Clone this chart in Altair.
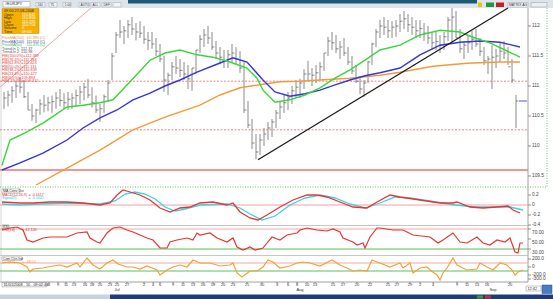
import altair as alt
import pandas as pd

W, H = 553, 299
FONT = "Liberation Sans"

# ---------------- price bars (4-hour bars, time axis in hours) ----------------
bar_hours = list(range(4, 517, 4))
bar_high = [
    110.9, 110.92, 111.0, 111.08, 111.15, 111.1, 110.9, 110.7, 110.62, 110.78,
    110.85, 110.82, 110.84, 110.9, 110.95, 110.88, 110.9, 110.88, 110.94, 111.0,
    111.05, 111.12, 110.98, 110.84, 110.7, 110.86, 111.1, 111.55, 111.9, 112.1,
    112.0, 112.1, 112.15, 112.05, 112.08, 112.0, 111.9, 111.9, 111.8, 111.7,
    111.5, 111.22, 111.4, 111.5, 111.45, 111.4, 111.35, 111.3, 111.6, 111.85,
    111.95, 112.0, 111.9, 111.75, 111.65, 111.6, 111.6, 111.7, 111.65, 111.58,
    111.4, 110.75, 110.45, 110.2, 110.2, 110.3, 110.4, 110.45, 110.6, 110.75,
    110.85, 110.9, 111.0, 111.1, 111.12, 111.28, 111.42, 111.3, 111.35, 111.4,
    111.55, 111.82, 111.9, 111.85, 111.75, 111.8, 111.65, 111.5, 111.35, 111.15,
    111.1, 111.42, 111.72, 111.95, 112.1, 112.15, 112.1, 112.08, 112.1, 112.2,
    112.25, 112.2, 112.15, 112.1, 112.1, 112.05, 112.0, 111.9, 111.9, 111.85,
    111.9, 112.15, 112.3, 112.25, 111.95, 111.75, 111.85, 111.92, 111.95, 111.8,
    111.65, 111.5, 111.68, 111.62, 111.72, 111.75, 111.65, 111.45, 110.85,
]
bar_low = [
    110.62, 110.66, 110.72, 110.8, 110.88, 110.8, 110.6, 110.42, 110.38, 110.52,
    110.56, 110.58, 110.55, 110.62, 110.66, 110.62, 110.6, 110.62, 110.66, 110.7,
    110.76, 110.8, 110.64, 110.55, 110.4, 110.55, 110.74, 111.1, 111.55, 111.8,
    111.7, 111.8, 111.85, 111.76, 111.8, 111.7, 111.6, 111.62, 111.5, 111.4,
    110.9, 110.85, 111.1, 111.2, 111.15, 111.1, 110.95, 110.92, 111.2, 111.55,
    111.65, 111.7, 111.6, 111.45, 111.36, 111.3, 111.3, 111.4, 111.35, 111.22,
    110.55, 110.3, 109.95, 109.78, 109.85, 110.0, 110.1, 110.15, 110.3, 110.45,
    110.55, 110.6, 110.7, 110.8, 110.8, 110.95, 111.1, 111.0, 111.05, 111.1,
    111.25, 111.5, 111.6, 111.55, 111.45, 111.5, 111.35, 111.2, 111.05, 110.86,
    110.82, 111.05, 111.35, 111.65, 111.8, 111.85, 111.8, 111.8, 111.82, 111.9,
    111.95, 111.9, 111.85, 111.8, 111.8, 111.75, 111.7, 111.6, 111.6, 111.55,
    111.6, 111.75, 111.72, 111.8, 111.55, 111.45, 111.55, 111.6, 111.65, 111.5,
    111.35, 111.2, 110.95, 111.3, 111.4, 111.45, 111.35, 111.05, 110.3,
]
bar_close = [
    110.8, 110.85, 110.92, 111.0, 110.98, 110.82, 110.6, 110.5, 110.6, 110.7,
    110.68, 110.72, 110.74, 110.8, 110.76, 110.72, 110.78, 110.8, 110.84, 110.9,
    110.98, 110.85, 110.72, 110.6, 110.62, 110.82, 111.05, 111.5, 111.85, 111.9,
    111.92, 112.02, 111.95, 111.9, 111.88, 111.78, 111.76, 111.7, 111.58, 111.45,
    111.1, 111.18, 111.32, 111.3, 111.26, 111.2, 111.12, 111.3, 111.6, 111.78,
    111.85, 111.8, 111.65, 111.55, 111.48, 111.42, 111.52, 111.55, 111.45, 111.3,
    110.6, 110.35, 110.05, 109.9, 110.1, 110.2, 110.3, 110.4, 110.55, 110.65,
    110.72, 110.8, 110.92, 110.98, 111.05, 111.2, 111.2, 111.18, 111.22, 111.32,
    111.55, 111.75, 111.72, 111.62, 111.65, 111.55, 111.4, 111.25, 111.08, 110.95,
    111.05, 111.4, 111.7, 111.9, 112.0, 111.98, 111.92, 111.98, 112.0, 112.08,
    112.12, 112.02, 111.98, 111.92, 111.96, 111.88, 111.8, 111.72, 111.74, 111.68,
    111.82, 112.1, 112.15, 111.8, 111.62, 111.68, 111.72, 111.78, 111.7, 111.58,
    111.42, 111.45, 111.48, 111.5, 111.58, 111.55, 111.32, 111.1, 110.75,
]

# ---------------- moving averages ----------------
ma50_t = [2, 10, 25, 43, 67, 83, 100, 113, 130, 150, 165, 180, 197, 213, 230, 247, 257, 263, 275, 290,
          305, 320, 335, 350, 365, 380, 400, 420, 440, 460, 475, 490, 505, 520]
ma50_p = [109.68, 110.1, 110.22, 110.38, 110.65, 110.68, 110.72, 110.77, 111.07, 111.43, 111.55, 111.6,
          111.52, 111.48, 111.4, 111.3, 111.13, 110.93, 110.73, 110.77, 110.85, 110.97, 111.13, 111.27,
          111.43, 111.6, 111.68, 111.85, 111.93, 111.9, 111.8, 111.72, 111.6, 111.48]
ma100_t = [2, 20, 43, 67, 83, 100, 117, 133, 150, 165, 180, 197, 215, 233, 247, 263, 275, 290, 305, 320,
           335, 350, 365, 380, 400, 420, 440, 460, 480, 500, 520]
ma100_p = [109.6, 109.72, 109.88, 110.1, 110.3, 110.47, 110.6, 110.77, 110.88, 111.0, 111.1, 111.23,
           111.35, 111.47, 111.4, 111.1, 110.9, 110.83, 110.87, 110.93, 111.02, 111.1, 111.17, 111.22,
           111.3, 111.52, 111.68, 111.73, 111.75, 111.73, 111.65]
ma200_t = [36, 67, 100, 133, 165, 200, 220, 240, 263, 280, 300, 320, 350, 380, 400, 433, 467, 500, 520]
ma200_p = [109.35, 109.63, 109.93, 110.27, 110.48, 110.68, 110.85, 110.97, 111.03, 111.07, 111.08,
           111.1, 111.13, 111.18, 111.23, 111.33, 111.38, 111.4, 111.4]

trend_t = [258, 508]
trend_p = [109.77, 112.3]
fan_t = [0, 91]
fan_p = [110.98, 112.3]
fib_dashed = [111.08, 110.27]
fib_solid = [109.6]

price_ticks = [112.0, 111.5, 111.0, 110.5, 110.0, 109.5]
price_labels = ["112", "111.5", "111", "110.5", "110", "109.5"]

# ---------------- MACD ----------------
macd_t = [2, 20, 33, 50, 67, 83, 100, 110, 117, 123, 130, 140, 150, 160, 170, 180, 190, 200, 213, 227,
          233, 240, 250, 258, 267, 280, 293, 307, 317, 327, 340, 353, 367, 377, 390, 400, 420, 440, 453,
          457, 470, 483, 497, 508, 513, 520]
macd_v = [0.06, 0.04, 0.04, 0.06, 0.06, 0.04, 0.0, 0.04, 0.2, 0.3, 0.26, 0.2, 0.1, -0.06, -0.14, -0.06,
          -0.04, 0.04, 0.06, 0.0, 0.04, -0.14, -0.26, -0.3, -0.2, -0.04, 0.1, 0.2, 0.2, 0.16, 0.06, -0.04,
          -0.06, 0.06, 0.2, 0.16, 0.1, 0.04, 0.04, 0.06, -0.04, -0.06, -0.04, -0.02, -0.1, -0.16]
signal_t = [2, 20, 40, 67, 100, 115, 125, 135, 145, 155, 165, 175, 185, 200, 227, 240, 250, 262, 275, 290,
            305, 320, 335, 350, 365, 380, 395, 410, 430, 455, 475, 495, 510, 523]
signal_v = [0.02, 0.0, 0.02, 0.04, 0.02, 0.08, 0.22, 0.26, 0.22, 0.12, -0.04, -0.12, -0.08, 0.0, 0.02,
            -0.06, -0.18, -0.3, -0.22, 0.0, 0.14, 0.2, 0.14, 0.02, -0.06, 0.04, 0.16, 0.14, 0.08, 0.0,
            -0.04, -0.04, -0.04, -0.1]
macd_ticks = [0.2, 0.0, -0.2, -0.4]
macd_labels = ["0.2", "0", "-0.2", "-0.4"]

# ---------------- RSI ----------------
rsi_t = [2, 10, 17, 23, 27, 33, 43, 50, 67, 77, 87, 90, 97, 100, 107, 113, 120, 127, 133, 140, 147, 153,
         160, 167, 170, 177, 187, 193, 197, 200, 210, 217, 227, 233, 237, 243, 250, 255, 263, 267, 272,
         280, 287, 297, 300, 307, 317, 327, 333, 340, 343, 353, 357, 363, 365, 370, 377, 380, 393, 403,
         413, 430, 438, 443, 453, 460, 467, 477, 483, 490, 497, 505, 510, 515, 518, 520, 523]
rsi_v = [68, 72, 74, 68, 48, 44, 52, 54, 54, 62, 64, 52, 44, 42, 62, 72, 74, 68, 64, 58, 52, 48,
         32, 32, 44, 48, 52, 48, 62, 58, 62, 52, 44, 52, 34, 28, 34, 28, 32, 42, 54,
         48, 58, 62, 68, 72, 68, 66, 70, 64, 52, 44, 38, 42, 32, 54, 72, 72, 68, 68,
         58, 54, 42, 48, 62, 44, 42, 54, 42, 38, 48, 44, 52, 24, 22, 42, 42]
rsi_ticks = [70, 50, 30]
rsi_labels = ["70.00", "50.00", "30.00"]

# ---------------- CCI ----------------
cci_t = [2, 10, 20, 27, 30, 33, 43, 53, 60, 67, 77, 80, 87, 93, 100, 107, 113, 118, 127, 133, 140, 147,
         157, 160, 167, 173, 180, 187, 193, 200, 210, 220, 230, 233, 237, 242, 250, 257, 263, 268, 273,
         280, 290, 297, 303, 310, 320, 332, 340, 347, 353, 360, 367, 372, 377, 380, 390, 400, 403, 410,
         413, 420, 427, 430, 437, 440, 443, 447, 453, 457, 467, 477, 480, 487, 493, 500, 507, 512, 515,
         518, 523]
cci_v = [100, 125, 100, 0, -125, -50, -25, 25, 50, 0, 100, 0, 225, 50, -50, 100, 175, 75, 0, 0, -50, 25,
         -75, -200, -75, 0, 50, 0, 175, 100, 100, 25, 50, 100, -150, -250, -100, -100, 0, 175, 125,
         -25, 25, 100, 125, 100, 25, 175, 50, -25, -100, -75, -100, 175, 125, 100, 0, 100, -25, 100,
         -150, -25, 0, -75, -200, -325, -150, -25, 225, 50, -75, -50, 100, 0, -75, 100, 50, -75, -200,
         -125, -75]
cci_ticks = [200, 0, -200, -300]
cci_labels = ["200.0", "0", "-200.0", "-300.0"]

# ---------------- time axis labels ----------------
date_t = [49, 58, 66, 74, 85, 92, 100, 110, 117, 127, 144, 153, 160, 173, 183, 193, 203, 213, 223, 233,
          247, 262, 277, 288, 297, 307, 315, 333, 343, 357, 370, 388, 397, 410, 420, 433, 457, 467, 477,
          487, 510]
date_lab = ["6", "9", "11", "13", "16", "18", "20", "23", "25", "27", "2", "4", "6", "9", "11", "13", "16",
            "18", "20", "23", "25", "30", "3", "6", "8", "10", "13", "15", "17", "20", "22", "25", "27",
            "29", "2", "4", "9", "11", "13", "16", "20"]
month_t = [117, 300, 493]
month_lab = ["Jul", "Aug", "Sep"]

# ======================================================================
PRICE = dict(domain=[109.35, 112.3], range=[185, 8])
MACD = dict(domain=[-0.42, 0.36], range=[226, 187])
RSI = dict(domain=[18, 76], range=[255, 226])
CCI = dict(domain=[-375, 275], range=[282, 256])


def xt(field="t"):
    return alt.X(field, type="quantitative",
                 scale=alt.Scale(domain=[0, W], range=[0, W], nice=False, zero=False), axis=None)


def ys(field, sc):
    return alt.Y(field, type="quantitative", scale=alt.Scale(nice=False, zero=False, **sc), axis=None)


def line(t, v, sc, color, width=1.2):
    df = pd.DataFrame({"t": t, "v": v})
    return alt.Chart(df).mark_line(color=color, strokeWidth=width).encode(x=xt(), y=ys("v", sc))


def hline(vals, sc, color, dash=None, width=1.0, x0=0, x1=528):
    df = pd.DataFrame({"v": vals})
    kw = dict(color=color, strokeWidth=width)
    if dash:
        kw["strokeDash"] = dash
    return alt.Chart(df).mark_rule(**kw).encode(x=alt.value(x0), x2=alt.value(x1), y=ys("v", sc))


def ylabels(vals, labs, sc, dy=0):
    df = pd.DataFrame({"v": vals, "lab": labs})
    ticks = alt.Chart(df).mark_rule(color="#777777", strokeWidth=0.8).encode(
        x=alt.value(528), x2=alt.value(531), y=ys("v", sc))
    text = alt.Chart(df).mark_text(align="left", baseline="middle", dy=dy, fontSize=4.8,
                                   font=FONT, color="#444444").encode(
        x=alt.value(532), y=ys("v", sc), text="lab:N")
    return [ticks, text]


# ---------------- chrome (window frame) ----------------
rects = pd.DataFrame([
    (0, 553, 0, 8, "#dfe4ea", "transparent"),
    (128, 477, 0, 3.5, "#1d5a76", "transparent"),
    (3, 30, 1.5, 7, "#ffffff", "#8a9ab0"),
    (36, 45, 2.5, 7, "#f4f4f4", "#9aaabb"),
    (49, 57, 2.5, 7, "#f4f4f4", "#9aaabb"),
    (63, 71, 2.5, 7, "#f4f4f4", "#9aaabb"),
    (79, 89, 2.5, 7, "#f4f4f4", "#9aaabb"),
    (91, 100, 2.5, 7, "#f4f4f4", "#9aaabb"),
    (102, 111, 2.5, 7, "#f4f4f4", "#9aaabb"),
    (113, 121, 2.5, 7, "#f4f4f4", "#9aaabb"),
    (478, 482, 2.5, 7, "#e8c800", "transparent"),
    (486, 494, 2.5, 7, "#1f9a3a", "transparent"),
    (496, 504, 2.5, 7, "#c82020", "transparent"),
    (508, 528, 2.5, 7, "#ffffff", "#8a9ab0"),
    (531, 547, 2.5, 7, "#eeeeee", "#8a9ab0"),
    (2, 39, 8.5, 33.5, "#f3b000", "#c08000"),
    (2, 20, 188.8, 192.8, "#ffffff", "#999999"),
    (2, 9, 224.8, 228.4, "#ffffff", "#999999"),
    (2, 22, 256.8, 260.4, "#ffffff", "#999999"),
    (2, 47, 282.5, 286.8, "#ffffff", "#888888"),
    (526, 541, 286, 291, "#ffffff", "#888888"),
    (542, 552, 285, 293.5, "#4a7cc4", "#2a4c94"),
    (0, 110, 294.5, 299, "#c8d3e0", "transparent"),
    (110, 553, 294.5, 299, "#1d3c7a", "transparent"),
    (477, 483, 295.5, 298.5, "#3a9a3a", "transparent"),
    (485, 491, 295.5, 298.5, "#c83030", "transparent"),
], columns=["x0", "x1", "y0", "y1", "fill", "stroke"])

rules = pd.DataFrame([
    (528, 528, 8, 282, "#888888"),
    (0, 528, 225.5, 225.5, "#b8b8b8"),
    (0, 528, 255.5, 255.5, "#b8b8b8"),
    (0, 528, 282, 282, "#888888"),
    (1, 1, 8, 282, "#cccccc"),
], columns=["x0", "x1", "y0", "y1", "col"])

dotted = pd.DataFrame([
    (0, 547, 187, 187),
    (547, 547, 8, 187),
], columns=["x0", "x1", "y0", "y1"])

legend_rows_y = [14.7, 18.1, 21.5, 24.9, 28.3, 31.7]
legend_names = ["Open", "High", "Low", "Close", "Volume", "Time"]
legend_vals = ["110.842", "110.850", "110.295", "110.754", "0", "09:00"]
red_rows_y = [56, 59.6, 63.2, 66.8, 70.4, 74, 77.6, 81.2]
red_rows = ["FIB(100.0%)=112.369", "FIB(76.4%)=111.784", "FIB(61.8%)=111.423", "FIB(50.0%)=111.131",
            "FIB(38.2%)=110.839", "FIB(23.6%)=110.477", "FIB(0.0%)=109.894", "FIB(-23.6%)=109.312"]

texts = [(5, 4.4, "#EURJPY", "#222222", 3.8),
         (37.5, 4.8, "240", "#333333", 3.2), (50.5, 4.8, "75", "#333333", 3.2),
         (64.5, 4.8, "1:00", "#333333", 3.2), (80.5, 4.8, "AUTO", "#333333", 3.2),
         (92.5, 4.8, "ALL", "#333333", 3.2), (103.5, 4.8, "DEF", "#333333", 3.2),
         (509, 4.8, "MATRIX AG", "#222222", 3.4),
         (4, 11, "09:00  27-08-2008", "#3b2800", 3.8)]
for yy, nm, vv in zip(legend_rows_y, legend_names, legend_vals):
    texts.append((4, yy, nm, "#3b2800", 3.8))
    texts.append((22, yy, vv, "#ffffff", 3.8))
texts += [(2, 38, "PriceMA(200)", "#f08a20", 3.6), (26.5, 38, "111.395 (C)", "#f08a20", 3.6),
          (2, 41.6, "PriceMA(100)", "#3a3ad8", 3.6), (26.5, 41.6, "111.652 (C)", "#3a3ad8", 3.6),
          (2, 45.2, "PriceMA(50)", "#2fbf2f", 3.6), (26.5, 45.2, "111.476 (C)", "#2fbf2f", 3.6),
          (2, 48.8, "Trend.ln 1: 112.37", "#555555", 3.8),
          (2, 52.4, "Trend.ln 2: 110.98", "#555555", 3.8)]
for yy, tx in zip(red_rows_y, red_rows):
    texts.append((2, yy, tx, "#e04040", 3.8))
texts += [(3, 190.9, "MA Conv Div", "#333333", 3.6),
          (2, 194.6, "MACD(12,26,9)", "#e03030", 3.6), (28.5, 194.6, "= -0.1617", "#e03030", 3.6),
          (2, 198.2, "Signal(9)", "#22c8d8", 3.6), (28.5, 198.2, "= -0.1041", "#22c8d8", 3.6),
          (3, 226.7, "RSI", "#333333", 3.4),
          (2, 230.4, "RSI(14)", "#e03030", 3.8), (22, 230.4, "= 42.105", "#e03030", 3.8),
          (3, 258.7, "Com Chn Ind", "#333333", 3.4),
          (2, 262.4, "CCI(14)", "#f0a030", 3.8), (22, 262.4, "= -48.51", "#f0a030", 3.8),
          (3.5, 284.7, "31/01/2008 - 10 - 09:02:46", "#222222", 3.8),
          (527.5, 288.6, "12:42", "#222222", 3.8)]
texts_df = pd.DataFrame(texts, columns=["x", "y", "text", "col", "fs"])

layers = []
layers.append(alt.Chart(rects).mark_rect(strokeWidth=0.5).encode(
    x=alt.X("x0:Q", scale=None), x2="x1:Q", y=alt.Y("y0:Q", scale=None), y2="y1:Q",
    fill=alt.Fill("fill:N", scale=None), stroke=alt.Stroke("stroke:N", scale=None)))
layers.append(alt.Chart(rules).mark_rule(strokeWidth=0.8).encode(
    x=alt.X("x0:Q", scale=None), x2="x1:Q", y=alt.Y("y0:Q", scale=None), y2="y1:Q",
    color=alt.Color("col:N", scale=None)))
layers.append(alt.Chart(dotted).mark_rule(strokeWidth=1, strokeDash=[1, 1.5], color="#66c066").encode(
    x=alt.X("x0:Q", scale=None), x2="x1:Q", y=alt.Y("y0:Q", scale=None), y2="y1:Q"))

# main panel reference lines
layers.append(hline(fib_dashed, PRICE, "#f08080", dash=[2, 1.5], width=1))
layers.append(hline(fib_solid, PRICE, "#f07070", width=1.6))
layers.append(line(fan_t, fan_p, PRICE, "#f4a0a0", 1))

# price bars
bars = pd.DataFrame({"t": bar_hours, "high": bar_high, "low": bar_low, "close": bar_close})
layers.append(alt.Chart(bars).mark_rule(color="#8a8a8a", strokeWidth=1).encode(
    x=xt(), y=ys("low", PRICE), y2=alt.Y2("high")))
layers.append(alt.Chart(bars).mark_tick(orient="horizontal", size=2.5, thickness=1, xOffset=1.2,
                                         color="#5a5a5a").encode(x=xt(), y=ys("close", PRICE)))

# moving averages + trendline
layers.append(line(ma200_t, ma200_p, PRICE, "#f39a3c", 1.4))
layers.append(line(ma100_t, ma100_p, PRICE, "#3535d8", 1.4))
layers.append(line(ma50_t, ma50_p, PRICE, "#39d639", 1.4))
layers.append(line(trend_t, trend_p, PRICE, "#1a1a1a", 1.3))

# last price marker
last_df = pd.DataFrame({"v": [bar_close[-1]]})
layers.append(alt.Chart(last_df).mark_rule(color="#5050d8", strokeWidth=1).encode(
    x=alt.value(519), x2=alt.value(527), y=ys("v", PRICE)))

# MACD panel
layers.append(hline([0.0], MACD, "#f0a0a0", width=1))
layers.append(line(signal_t, signal_v, MACD, "#33d4e4", 1.3))
layers.append(line(macd_t, macd_v, MACD, "#e83434", 1.3))

# RSI panel
layers.append(hline([70], RSI, "#f0a8a8", width=1))
layers.append(hline([30], RSI, "#5cbf5c", width=1))
layers.append(line(rsi_t, rsi_v, RSI, "#e83434", 1.2))

# CCI panel
layers.append(hline([100], CCI, "#f0a8a8", width=1))
layers.append(hline([-100], CCI, "#5cbf5c", width=1))
layers.append(line(cci_t, cci_v, CCI, "#f2a03a", 1.2))

# right-hand scales
layers += ylabels(price_ticks, price_labels, PRICE)
layers += ylabels(macd_ticks, macd_labels, MACD)
layers += ylabels(rsi_ticks, rsi_labels, RSI, dy=4)
layers += ylabels(cci_ticks, cci_labels, CCI)

# time axis
dates = pd.DataFrame({"t": date_t, "lab": date_lab})
layers.append(alt.Chart(dates).mark_rule(color="#666666", strokeWidth=0.8).encode(
    x=xt(), y=alt.value(282), y2=alt.value(283.5)))
layers.append(alt.Chart(dates).mark_text(fontSize=4, font=FONT, color="#333333", baseline="middle").encode(
    x=xt(), y=alt.value(285.2), text="lab:N"))
months = pd.DataFrame({"t": month_t, "lab": month_lab})
layers.append(alt.Chart(months).mark_text(fontSize=4, font=FONT, color="#333333", baseline="middle").encode(
    x=xt(), y=alt.value(290), text="lab:N"))

# chrome texts
layers.append(alt.Chart(texts_df).mark_text(align="left", baseline="middle", font=FONT).encode(
    x=alt.X("x:Q", scale=None), y=alt.Y("y:Q", scale=None), text="text:N",
    color=alt.Color("col:N", scale=None), size=alt.Size("fs:Q", scale=None)))

chart = alt.layer(*layers).resolve_scale(x="independent", y="independent").properties(
    width=W, height=H, padding=0, background="white",
    autosize=alt.AutoSizeParams(type="none"),
).configure_view(stroke=None)

chart.save("out.html", embed_options={"renderer": "svg", "actions": False})
